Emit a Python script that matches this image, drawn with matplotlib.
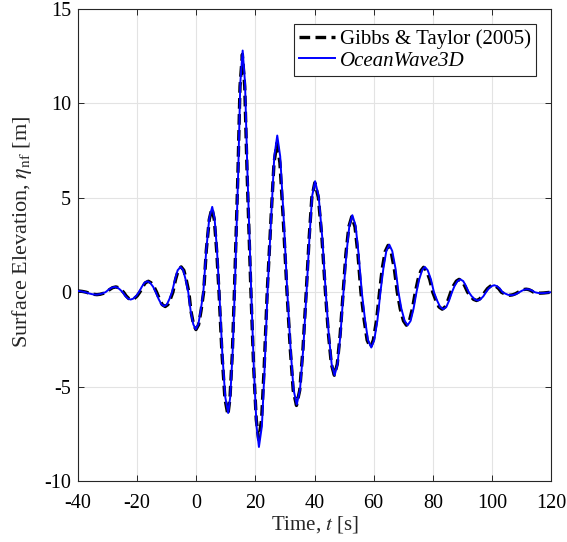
import matplotlib
matplotlib.use("Agg")
import matplotlib.pyplot as plt

plt.rcParams['font.family'] = ['Liberation Serif', 'DejaVu Serif']
plt.rcParams['mathtext.fontset'] = 'stix'

# OceanWave3D (blue) samples
ow_t = [-40, -38.8, -37.5,
        -36.3, -35.1, -33.9, -32.8, -31.8, -30.7,
        -29.6, -28.6, -27.5, -26.6, -25.8, -24.9,
        -24.0, -23.1, -22.2, -21.3, -20.3, -19.4,
        -18.4, -17.5, -16.5, -15.6, -14.6, -13.7,
        -12.7, -11.8, -10.8, -9.9, -9.1, -8.2,
        -7.2, -6.3, -5.3, -4.4, -3.6, -2.7,
        -1.9, -1.0, -0.2, 0.7, 1.5, 2.4,
        3.4, 4.4, 5.4, 6.2, 7.0, 7.8,
        8.8, 9.8, 10.8, 11.5, 12.3, 13.0,
        14.2, 14.9, 15.7, 16.5, 17.3, 18.6,
        19.5, 20.4, 21.2, 22.2, 23.1, 24.1,
        25.4, 26.4, 27.4, 28.4, 29.5, 30.8,
        31.9, 32.9, 34.0, 35.1, 36.2, 37.3,
        38.3, 39.2, 40.2, 41.4, 42.6, 43.8,
        44.8, 45.8, 46.8, 47.8, 48.8, 49.8,
        50.8, 51.8, 52.8, 53.9, 54.9, 56.0,
        57.1, 58.1, 59.2, 60.2, 61.3, 62.3,
        63.3, 64.3, 65.3, 66.3, 67.4, 68.4,
        69.4, 70.5, 71.5, 72.5, 73.5, 74.5,
        75.4, 76.4, 77.3, 78.3, 79.4, 80.4,
        81.5, 82.5, 83.6, 84.6, 85.5, 86.5,
        87.4, 88.4, 89.3, 90.3, 91.2, 92.2,
        93.2, 94.2, 95.2, 96.1, 97.1, 98.0,
        98.9, 99.9, 100.8, 101.7, 102.7, 103.6,
        104.6, 105.5, 106.5, 107.4, 108.4, 109.3,
        110.2, 111.1, 112.0, 112.8, 113.7, 114.5,
        115.3, 116.0, 116.8, 118.0, 119.0, 120.0]
ow_eta = [0.07, 0.04, 0.0,
          -0.065, -0.11, -0.13, -0.11, -0.065, 0.0,
          0.14, 0.24, 0.28, 0.24, 0.14, 0.0,
          -0.2, -0.34, -0.39, -0.34, -0.2, 0.0,
          0.29, 0.5, 0.58, 0.5, 0.29, 0.0,
          -0.37, -0.64, -0.74, -0.64, -0.37, 0.0,
          0.67, 1.16, 1.34, 1.16, 0.67, 0.0,
          -0.98, -1.70, -1.96, -1.70, -0.98, 0.0,
          2.26, 3.91, 4.52, 3.91, 2.26, 0.0,
          -3.2, -5.54, -6.4, -5.54, -3.2, 0.0,
          6.4, 11.08, 12.8, 11.08, 6.4, 0.0,
          -4.1, -7.1, -8.2, -7.1, -4.1, 0.0,
          4.15, 7.19, 8.3, 7.19, 4.15, 0.0,
          -2.98, -5.15, -5.95, -5.15, -2.98, 0.0,
          2.94, 5.09, 5.88, 5.09, 2.94, 0.0,
          -2.2, -3.81, -4.4, -3.81, -2.2, 0.0,
          2.04, 3.53, 4.08, 3.53, 2.04, 0.0,
          -1.47, -2.54, -2.93, -2.54, -1.47, 0.0,
          1.26, 2.18, 2.52, 2.18, 1.26, 0.0,
          -0.88, -1.52, -1.75, -1.52, -0.88, 0.0,
          0.67, 1.16, 1.34, 1.16, 0.67, 0.0,
          -0.45, -0.78, -0.9, -0.78, -0.45, 0.0,
          0.34, 0.59, 0.68, 0.59, 0.34, 0.0,
          -0.22, -0.38, -0.44, -0.38, -0.22, 0.0,
          0.19, 0.32, 0.37, 0.32, 0.19, 0.0,
          -0.08, -0.14, -0.16, -0.14, -0.08, 0.0,
          0.08, 0.14, 0.16, 0.14, 0.08, 0.0,
          -0.03, -0.045, -0.05, -0.04, -0.02, 0.0]

# Gibbs & Taylor (2005) (black dashed) samples
gt_t = [-40, -38.5, -37.2,
        -36.0, -34.8, -33.6, -32.5, -31.5, -30.4,
        -29.3, -28.3, -27.2, -26.3, -25.5, -24.6,
        -23.7, -22.8, -21.9, -21.0, -20.0, -19.1,
        -18.1, -17.2, -16.2, -15.3, -14.3, -13.4,
        -12.4, -11.5, -10.5, -9.6, -8.8, -7.9,
        -7.0, -6.1, -5.1, -4.2, -3.4, -2.5,
        -1.8, -0.9, -0.1, 0.8, 1.6, 2.5,
        3.4, 4.4, 5.3, 6.1, 6.9, 7.7,
        8.7, 9.7, 10.7, 11.4, 12.2, 12.9,
        14.1, 14.8, 15.6, 16.4, 17.2, 18.5,
        19.4, 20.3, 21.1, 22.1, 23.0, 24.0,
        25.3, 26.3, 27.3, 28.3, 29.4, 30.7,
        31.8, 32.8, 33.9, 35.0, 36.1, 37.2,
        38.2, 39.1, 40.1, 41.3, 42.5, 43.7,
        44.7, 45.7, 46.7, 47.7, 48.7, 49.7,
        50.6, 51.6, 52.6, 53.7, 54.7, 55.7,
        56.8, 57.8, 58.9, 59.9, 61.0, 62.0,
        62.9, 63.9, 64.9, 65.9, 67.0, 68.0,
        69.0, 70.1, 71.1, 72.1, 73.1, 74.1,
        75.0, 76.0, 76.9, 77.9, 79.0, 80.0,
        81.1, 82.1, 83.2, 84.2, 85.1, 86.1,
        87.0, 88.0, 88.9, 89.9, 90.8, 91.8,
        92.8, 93.8, 94.8, 95.7, 96.7, 97.6,
        98.5, 99.5, 100.4, 101.3, 102.3, 103.2,
        104.2, 105.1, 106.1, 107.0, 108.0, 108.9,
        109.8, 110.7, 111.6, 112.4, 113.3, 114.1,
        114.9, 115.6, 116.4, 117.6, 118.8, 120.0]
gt_eta = [0.07, 0.04, 0.0,
          -0.065, -0.11, -0.13, -0.11, -0.065, 0.0,
          0.14, 0.24, 0.28, 0.24, 0.14, 0.0,
          -0.2, -0.34, -0.40, -0.34, -0.2, 0.0,
          0.29, 0.5, 0.58, 0.5, 0.29, 0.0,
          -0.38, -0.66, -0.76, -0.66, -0.38, 0.0,
          0.67, 1.16, 1.34, 1.16, 0.67, 0.0,
          -1.0, -1.72, -1.98, -1.72, -1.0, 0.0,
          2.22, 3.85, 4.45, 3.85, 2.22, 0.0,
          -3.25, -5.63, -6.5, -5.63, -3.25, 0.0,
          6.3, 10.9, 12.6, 10.9, 6.3, 0.0,
          -3.9, -6.75, -7.8, -6.75, -3.9, 0.0,
          3.95, 6.85, 7.9, 6.85, 3.95, 0.0,
          -3.0, -5.2, -6.0, -5.2, -3.0, 0.0,
          2.9, 5.02, 5.8, 5.02, 2.9, 0.0,
          -2.2, -3.81, -4.4, -3.81, -2.2, 0.0,
          2.0, 3.46, 4.0, 3.46, 2.0, 0.0,
          -1.47, -2.54, -2.93, -2.54, -1.47, 0.0,
          1.24, 2.15, 2.48, 2.15, 1.24, 0.0,
          -0.88, -1.52, -1.75, -1.52, -0.88, 0.0,
          0.66, 1.14, 1.32, 1.14, 0.66, 0.0,
          -0.45, -0.78, -0.9, -0.78, -0.45, 0.0,
          0.34, 0.59, 0.68, 0.59, 0.34, 0.0,
          -0.22, -0.38, -0.44, -0.38, -0.22, 0.0,
          0.19, 0.32, 0.37, 0.32, 0.19, 0.0,
          -0.08, -0.14, -0.16, -0.14, -0.08, 0.0,
          0.08, 0.14, 0.16, 0.14, 0.08, 0.0,
          -0.03, -0.045, -0.05, -0.04, -0.02, 0.0]

x_ticks = [-40, -20, 0, 20, 40, 60, 80, 100, 120]
y_ticks = [-10, -5, 0, 5, 10, 15]

fig = plt.figure(figsize=(5.67, 5.42), dpi=100)
ax = fig.add_axes([78/567, 1-481/542, (551-78)/567, (481-9)/542])

ax.plot(gt_t, gt_eta, color='black', lw=2.4, ls=(0, (3.2, 1.6)),
        label='Gibbs & Taylor (2005)', zorder=3)
ax.plot(ow_t, ow_eta, color='#0000ff', lw=1.4, label='OceanWave3D', zorder=4)

ax.set_xlim(-40, 120)
ax.set_ylim(-10, 15)
ax.set_xticks(x_ticks)
ax.set_yticks(y_ticks)
ax.set_xticklabels([str(v) for v in x_ticks])
ax.set_yticklabels([str(v) for v in y_ticks])
ax.grid(True, color='#e3e3e3', lw=0.8)
ax.set_axisbelow(True)
ax.tick_params(direction='in', top=True, right=True, length=4,
               labelsize=14.5, color='#262626', width=0.7)
ax.tick_params(axis='x', pad=9)
ax.tick_params(axis='y', pad=5)
for s in ax.spines.values():
    s.set_color('#262626')
    s.set_linewidth(0.8)

ax.set_xlabel('Time, $t$ [s]', fontsize=15, labelpad=1, color='#262626')
ax.set_ylabel(r'Surface Elevation, $\eta_{\mathrm{nf}}$ [m]', fontsize=16,
              color='#262626')
ax.yaxis.set_label_coords(-0.094, 0.527)

leg = ax.legend(loc='upper right', fontsize=15, frameon=True, fancybox=False,
                edgecolor='#262626', framealpha=1, borderpad=0.25,
                handlelength=1.7, handletextpad=0.25, labelspacing=0.1,
                borderaxespad=0.72)
leg.get_frame().set_linewidth(0.8)
leg.get_texts()[1].set_fontstyle('italic')

fig.savefig('out.png', dpi=100)
